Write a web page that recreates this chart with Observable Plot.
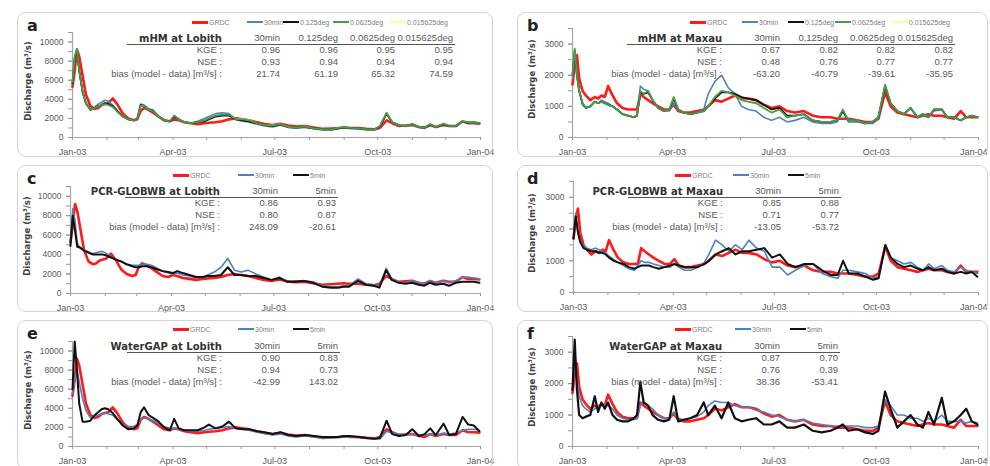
<!DOCTYPE html>
<html><head><meta charset="utf-8">
<script src="https://cdn.jsdelivr.net/npm/d3@7"></script>
<script src="https://cdn.jsdelivr.net/npm/@observablehq/plot@0.6"></script>
<style>
body{margin:0;background:#fff;font-family:"Liberation Sans",Arial,sans-serif;}
#root{position:relative;width:990px;height:466px;overflow:hidden;background:#fff;}
.panel{position:absolute;}
.panel svg{position:absolute;left:0;top:0;}
.frame{position:absolute;left:0;top:0;right:0;bottom:0;border:1px solid #d4d4d4;border-radius:9px;pointer-events:none;}
.t{position:absolute;white-space:nowrap;line-height:1;}
.letter{font:bold 16px "DejaVu Sans",sans-serif;color:#222;}
.ytitle{font:bold 8.5px "DejaVu Sans",sans-serif;color:#404040;}
.lg{font-size:7px;color:#808080;}
.tbl{font-size:9.5px;color:#595959;}
.thead{font:bold 10px "DejaVu Sans",sans-serif;color:#333;}
.uline{position:absolute;height:0;border-top:1.3px solid #555;}
.lgline{position:absolute;height:0;}
</style>
</head><body><div id="root"></div>
<script>
// ---- day offsets from 1 Jan 2003 shared by all series ----
const days = [0,2,4,6,9,12,16,20,23,26, 29,32,36,40,45,50,55,58,61,64,
  68,72,77,82,87,91,95,100,106,112, 118,122,128,134,140,146,152,158,165,172,
  179,186,193,200,208,216,224,232,238,243, 248,256,263,270,275,281,286,292,298,304,
  310,315,320,325,332,337,343,349,354,359,364];

// ---- Lobith (m3/s) ----
const lobGRDC = [5300,7000,9200,8500,6500,4500,3300,3000,3100,3400,
  3500,3600,4100,3500,2500,2000,1800,1900,2800,3100,
  2900,2600,2200,1800,1700,1900,1800,1600,1500,1400,
  1500,1550,1600,1700,1900,2000,1900,1800,1600,1400,
  1300,1450,1250,1150,1200,1050,900,950,1000,1050,
  1000,1000,900,850,1000,1800,1500,1200,1250,1300,
  1100,1000,1300,1100,1300,1200,1200,1700,1500,1500,1450];
const lobMhm30 = [5600,8300,9100,7000,4800,3600,2900,3200,3500,3700,
  3900,3800,3400,2800,2200,1900,1800,2000,3500,3400,
  3000,2900,2200,1800,1700,2200,1800,1600,1500,1700,
  2000,2200,2500,2600,2500,1900,1700,1600,1400,1200,
  1100,1300,1050,1000,1100,900,800,800,950,1050,
  950,900,800,800,1100,2500,1600,1250,1150,1350,
  1050,1000,1350,1050,1400,1150,1150,1650,1550,1550,1450];
const lobMhm0125 = [5700,8400,9200,7000,4800,3600,2900,3100,3300,3400,
  3600,3500,3300,2800,2200,1900,1800,2000,3400,3300,
  2900,2800,2200,1800,1700,2200,1900,1600,1500,1600,
  1700,1900,2200,2300,2300,1900,1800,1700,1500,1300,
  1200,1350,1100,1050,1100,950,850,850,950,1050,
  1000,950,850,850,1150,2500,1600,1300,1200,1400,
  1100,1050,1350,1100,1400,1200,1200,1700,1550,1600,1500];
const lobMhm00625 = [5800,8500,9300,7000,4800,3600,2900,3100,3300,3400,
  3500,3400,3200,2700,2200,1900,1800,2000,3300,3300,
  2900,2800,2200,1800,1700,2300,1900,1600,1500,1600,
  1800,2000,2300,2400,2400,1900,1900,1800,1500,1300,
  1250,1400,1100,1050,1150,950,850,850,1000,1100,
  1000,950,850,850,1200,2600,1600,1300,1200,1400,
  1100,1050,1400,1100,1450,1200,1200,1700,1600,1600,1500];
const lobMhm0015625 = [5800,8500,9300,7050,4850,3600,2900,3100,3300,3450,
  3550,3400,3200,2700,2200,1900,1800,2000,3300,3300,
  2900,2800,2250,1800,1700,2300,1900,1600,1500,1650,
  1800,2000,2300,2400,2400,1950,1900,1800,1500,1300,
  1250,1400,1100,1050,1150,950,850,850,1000,1100,
  1000,950,850,850,1200,2650,1650,1300,1200,1400,
  1100,1050,1400,1100,1450,1200,1200,1750,1600,1600,1500];
const lobPcr30 = [5300,8700,7500,5200,4600,4500,4300,4100,4200,4300,
  4300,4100,3800,3500,3300,3000,2900,2900,2900,3000,
  3000,2900,2600,2300,2100,2000,2100,1900,1800,1600,
  1700,1900,2200,2700,3600,2400,2200,2400,2000,1700,
  1400,1700,1200,1300,1300,1200,800,700,700,800,
  800,1500,1000,900,800,2600,1500,1200,1100,1300,
  1100,1000,1300,1100,1300,1100,1300,1700,1700,1600,1500];
const lobPcr5 = [4900,8000,6500,4800,4700,4400,4200,4000,4000,4000,
  4000,3900,3700,3500,3300,3000,2800,2700,2700,2800,
  2800,2700,2500,2300,2200,2100,2300,2100,1900,1700,
  1700,1800,1800,1900,2700,1900,1900,1800,1800,1600,
  1400,1600,1200,1200,1300,1100,700,600,600,700,
  700,1300,900,800,600,2400,1400,1100,1000,1100,
  900,800,1100,900,1000,800,1100,1200,1200,1200,1100];
const lobWg30 = [5500,7200,8000,6800,5000,3800,3000,3200,3300,3400,
  3500,3400,3300,2800,2300,2100,2100,2300,2800,3000,
  2900,2700,2400,2100,1900,1900,1800,1700,1600,1600,
  1700,1800,1900,2000,2100,1900,1800,1700,1500,1400,
  1200,1300,1100,1000,1100,1000,900,900,950,1000,
  1000,950,900,850,800,1600,1400,1300,1200,1300,
  1200,1200,1300,1200,1400,1300,1400,1700,1800,1800,1700];
const lobWg5 = [6000,11000,8000,4500,2600,2600,2700,3300,3600,3900,
  4000,3900,3500,2900,2200,1800,1900,2200,3600,4100,
  3300,3000,2600,2000,1700,2900,1900,1700,1700,1700,
  2000,2300,1900,2100,2600,1900,1800,1800,1600,1500,
  1300,1500,1200,1100,1200,1100,1000,1000,1000,1100,
  1100,1000,900,800,900,2700,1300,1100,1200,1800,
  1100,1300,1900,1200,2400,1200,1300,3100,2300,2200,1600];

// ---- Maxau (m3/s) ----
const maxGRDC = [1700,2300,2650,1900,1500,1350,1200,1300,1250,1350,
  1300,1650,1350,1100,950,900,900,900,1400,1300,
  1200,1100,1000,900,900,1050,850,800,800,850,
  900,1000,1200,1150,1250,1350,1250,1250,1200,1050,
  950,1000,850,800,850,700,650,650,600,600,
  600,550,500,500,600,1450,1000,800,750,700,
  650,700,750,700,700,650,600,850,650,650,650];
const maxMhm30 = [1900,2700,2000,1500,1050,950,1000,1150,1100,1200,
  1150,1100,1000,900,750,700,650,700,1650,1550,
  1500,1200,950,850,850,1100,900,800,750,800,
  900,1400,1800,2000,1600,1400,1000,900,850,650,
  550,650,500,550,650,500,450,450,500,850,
  500,500,450,450,600,1650,1100,850,750,950,
  650,700,650,850,900,650,650,550,650,700,650];
const maxMhm0125 = [2000,2800,2000,1500,1100,950,1000,1150,1100,1150,
  1100,1050,1000,900,750,700,650,700,1450,1400,
  1450,1200,950,850,900,1250,900,800,750,800,
  850,1000,1250,1450,1450,1400,1300,1250,1200,1050,
  900,950,700,700,750,550,500,500,550,850,
  550,550,450,500,650,1650,1100,850,750,950,
  650,750,650,900,900,650,650,550,650,700,650];
const maxMhm00625 = [2000,2850,2000,1500,1100,950,1000,1150,1100,1150,
  1100,1050,1000,900,750,700,650,700,1500,1400,
  1500,1200,950,850,900,1300,900,800,750,800,
  850,1000,1300,1500,1450,1350,1200,1150,1100,950,
  800,900,650,700,750,550,500,500,550,900,
  550,550,450,500,650,1700,1100,850,750,950,
  650,750,650,900,900,650,650,550,650,700,650];
const maxMhm0015625 = [2000,2850,2050,1500,1100,950,1000,1150,1100,1150,
  1100,1050,1000,900,750,700,650,700,1500,1400,
  1500,1200,950,850,900,1300,900,800,750,800,
  850,1000,1300,1500,1450,1350,1200,1150,1100,950,
  800,900,650,700,750,550,500,500,550,900,
  550,550,450,500,650,1700,1100,850,750,950,
  650,750,650,900,900,650,650,550,650,700,650];
const maxPcr30 = [1700,2500,1900,1600,1500,1400,1350,1400,1350,1300,
  1250,1150,1050,950,850,750,700,850,1000,950,
  950,900,850,800,800,900,800,700,700,800,
  950,1200,1650,1500,1300,1500,1350,1650,1400,1300,
  800,800,550,700,850,900,600,500,450,700,
  700,650,600,450,500,1500,1100,1000,900,950,
  800,700,900,750,850,700,650,800,700,650,600];
const maxPcr5 = [1700,2400,1900,1600,1400,1350,1300,1300,1250,1250,
  1200,1100,1000,950,900,800,750,800,850,850,
  850,800,750,800,850,900,850,800,800,800,
  900,1000,1200,1300,1400,1200,1300,1300,1350,1400,
  1100,1200,900,800,900,900,700,550,550,1000,
  600,600,500,400,450,1500,1100,900,800,850,
  750,700,800,700,750,650,600,650,600,650,500];
const maxWg30 = [1800,2700,2200,1600,1300,1200,1100,1200,1250,1300,
  1350,1300,1200,1000,900,850,850,900,1350,1400,
  1300,1200,1000,900,900,1100,900,850,900,950,
  1100,1300,1450,1400,1400,1300,1250,1250,1150,1100,
  1000,950,850,800,850,750,700,650,650,650,
  650,650,600,600,650,1500,1300,1000,1000,900,
  900,800,900,800,1000,800,800,800,750,800,750];
const maxWg5 = [1800,3400,1800,1000,900,950,1000,1600,1100,1400,
  1200,1400,1000,850,800,800,900,1000,2050,1400,
  1300,1000,850,800,850,1600,800,850,900,1000,
  1400,1000,1300,900,1400,900,800,850,900,700,
  700,800,600,600,700,500,450,500,600,700,
  500,550,450,400,500,1750,1200,600,800,1000,
  700,600,1100,700,1550,700,800,1000,1200,800,700];

// ---- performance statistics ----
const mhmLobKGE = ["0.96","0.96","0.95","0.95"], mhmLobNSE = ["0.93","0.94","0.94","0.94"], mhmLobBias = ["21.74","61.19","65.32","74.59"];
const mhmMaxKGE = ["0.67","0.82","0.82","0.82"], mhmMaxNSE = ["0.48","0.76","0.77","0.77"], mhmMaxBias = ["-63.20","-40.79","-39.61","-35.95"];
const pcrLobKGE = ["0.86","0.93"], pcrLobNSE = ["0.80","0.87"], pcrLobBias = ["248.09","-20.61"];
const pcrMaxKGE = ["0.85","0.88"], pcrMaxNSE = ["0.71","0.77"], pcrMaxBias = ["-13.05","-53.72"];
const wgLobKGE = ["0.90","0.83"], wgLobNSE = ["0.94","0.73"], wgLobBias = ["-42.99","143.02"];
const wgMaxKGE = ["0.87","0.70"], wgMaxNSE = ["0.76","0.39"], wgMaxBias = ["38.36","-53.41"];
const mhmCols = ["30min","0.125deg","0.0625deg","0.015625deg"];
const coarseCols = ["30min","5min"];
const rowLabels = ["KGE :","NSE :","bias (model - data) [m³/s] :"];

// ---- axis ticks ----
const xTickDates = ["2003-01-01","2003-04-01","2003-07-01","2003-10-01","2004-01-01"].map(s => new Date(s));
const xTickLabels = ["Jan-03","Apr-03","Jul-03","Oct-03","Jan-04"];
const lobYLabels = [0,2000,4000,6000,8000,10000];
const lobYMinor = [0,1000,2000,3000,4000,5000,6000,7000,8000,9000,10000,11000];
const maxYLabels = [0,1000,2000,3000];
const maxYMinor = [0,500,1000,1500,2000,2500,3000,3500];
const yTitle = "Discharge (m³/s)";

// ---- styles ----
const RED = "#ff1a1a", BLUE = "#4f81bd", BLACK = "#111111", GREEN = "#43a047", YELLOW = "#ffff8c";
const dateOf = d => new Date(Date.UTC(2003, 0, 1 + d));
const xDomain = [new Date("2003-01-01"), new Date("2004-01-01")];
const monthTicks = d3.utcMonth.range(new Date("2003-01-01"), new Date("2004-01-02"));
const xLabelFor = d => xTickLabels[xTickDates.findIndex(t => +t === +d)];

const mk = (label, values, color, w) => ({label, values, color, w});
const panels = [
  {letter:"a", left:17, top:12, w:476, h:145, ml:55, mt:20, mb:20, mr:13, ymax:11000, yl:lobYLabels, ym:lobYMinor, tOff:-44, right:false,
   title:"mHM at Lobith", cols:mhmCols, stats:[mhmLobKGE,mhmLobNSE,mhmLobBias],
   series:[mk("GRDC",lobGRDC,RED,2.6), mk("30min",lobMhm30,BLUE,1.6), mk("0.125deg",lobMhm0125,BLACK,1.8), mk("0.0625deg",lobMhm00625,GREEN,1.8), mk("0.015625deg",lobMhm0015625,YELLOW,1.5)],
   order:[0,4,1,2,3], lgx:[192,247,283,333,390], lgy:22},
  {letter:"b", left:517, top:12, w:471, h:145, ml:55, mt:16, mb:20, mr:10, ymax:3500, yl:maxYLabels, ym:maxYMinor, tOff:-40, right:true,
   title:"mHM at Maxau", cols:mhmCols, stats:[mhmMaxKGE,mhmMaxNSE,mhmMaxBias],
   series:[mk("GRDC",maxGRDC,RED,2.6), mk("30min",maxMhm30,BLUE,1.6), mk("0.125deg",maxMhm0125,BLACK,1.8), mk("0.0625deg",maxMhm00625,GREEN,1.8), mk("0.015625deg",maxMhm0015625,YELLOW,1.5)],
   order:[0,4,1,2,3], lgx:[690,742,788,835,892], lgy:22},
  {letter:"c", left:17, top:165, w:476, h:147, ml:53, mt:21, mb:19, mr:13, ymax:11000, yl:lobYLabels, ym:lobYMinor, tOff:-43, right:false,
   title:"PCR-GLOBWB at Lobith", cols:coarseCols, stats:[pcrLobKGE,pcrLobNSE,pcrLobBias],
   series:[mk("GRDC",lobGRDC,RED,2.6), mk("30min",lobPcr30,BLUE,1.6), mk("5min",lobPcr5,BLACK,2)],
   order:[0,1,2], lgx:[173,238,293], lgy:175},
  {letter:"d", left:517, top:165, w:471, h:147, ml:56, mt:16, mb:20, mr:10, ymax:3500, yl:maxYLabels, ym:maxYMinor, tOff:-41, right:true,
   title:"PCR-GLOBWB at Maxau", cols:coarseCols, stats:[pcrMaxKGE,pcrMaxNSE,pcrMaxBias],
   series:[mk("GRDC",maxGRDC,RED,2.6), mk("30min",maxPcr30,BLUE,1.6), mk("5min",maxPcr5,BLACK,2)],
   order:[0,1,2], lgx:[675,733,788], lgy:175},
  {letter:"e", left:17, top:320, w:476, h:150, ml:55, mt:21, mb:24, mr:13, ymax:11000, yl:lobYLabels, ym:lobYMinor, tOff:-44, right:false,
   title:"WaterGAP at Lobith", cols:coarseCols, stats:[wgLobKGE,wgLobNSE,wgLobBias],
   series:[mk("GRDC",lobGRDC,RED,2.6), mk("30min",lobWg30,BLUE,1.6), mk("5min",lobWg5,BLACK,2)],
   order:[0,1,2], lgx:[173,238,293], lgy:329},
  {letter:"f", left:517, top:320, w:471, h:150, ml:55, mt:16, mb:24, mr:10, ymax:3500, yl:maxYLabels, ym:maxYMinor, tOff:-40, right:true,
   title:"WaterGAP at Maxau", cols:coarseCols, stats:[wgMaxKGE,wgMaxNSE,wgMaxBias],
   series:[mk("GRDC",maxGRDC,RED,2.6), mk("30min",maxWg30,BLUE,1.6), mk("5min",maxWg5,BLACK,2.2)],
   order:[0,1,2], lgx:[675,735,790], lgy:329}
];

const root = document.getElementById("root");
function txt(parent, s, x, y, cls, align) {
  const e = document.createElement("div");
  e.className = "t " + cls; e.textContent = s;
  e.style.left = x + "px"; e.style.top = y + "px";
  e.style.transform = align === "right" ? "translate(-100%,-50%)" : align === "center" ? "translate(-50%,-50%)" : "translate(0,-50%)";
  parent.appendChild(e);
  return e;
}

for (const p of panels) {
  const div = document.createElement("div");
  div.className = "panel";
  Object.assign(div.style, {left: p.left + "px", top: p.top + "px", width: p.w + "px", height: p.h + "px"});
  root.appendChild(div);

  const lines = p.order.map(k => {
    const s = p.series[k];
    const data = days.map((d, i) => ({date: dateOf(d), q: s.values[i]}));
    return Plot.lineY(data, {x: "date", y: "q", stroke: s.color, strokeWidth: s.w, strokeLinejoin: "round"});
  });

  // x labels: on right-hand panels the final label is end-anchored so it stays inside the page
  const mainTicks = p.right ? xTickDates.slice(0, -1) : xTickDates;
  const xLabelMarks = [
    Plot.axisX({ticks: mainTicks, tickSize: 0, tickPadding: 11, fontSize: 9, fill: "#595959", tickFormat: xLabelFor, label: null})
  ];
  if (p.right) xLabelMarks.push(
    Plot.axisX({ticks: xTickDates.slice(-1), tickSize: 0, tickPadding: 11, fontSize: 9, fill: "#595959", tickFormat: xLabelFor, label: null, textAnchor: "end", dx: 9})
  );

  const chart = Plot.plot({
    width: p.w, height: p.h,
    marginLeft: p.ml, marginTop: p.mt, marginBottom: p.mb, marginRight: p.mr,
    style: {fontFamily: "Liberation Sans, Arial, sans-serif", fontSize: "8.5px", color: "#595959", background: "transparent", overflow: "visible"},
    x: {type: "utc", domain: xDomain},
    y: {domain: [0, p.ymax]},
    marks: [
      Plot.axisY({ticks: p.ym, tickSize: 4, tickFormat: () => "", label: null, stroke: "#999"}),
      Plot.axisY({ticks: p.yl, tickSize: 4, tickPadding: 5, tickFormat: d => String(d), label: null, stroke: "#999", fill: "#595959"}),
      Plot.axisX({ticks: monthTicks, tickSize: 3, tickFormat: () => "", label: null, stroke: "#999"}),
      ...xLabelMarks,
      Plot.ruleX([xDomain[0]], {stroke: "#a6a6a6", strokeWidth: 1.2}),
      Plot.ruleY([0], {stroke: "#a6a6a6", strokeWidth: 1.2}),
      ...lines
    ]
  });
  div.appendChild(chart);

  const frame = document.createElement("div"); frame.className = "frame"; div.appendChild(frame);

  // panel letter
  txt(div, p.letter, 10, 13, "letter", "left");
  // y-axis title
  const fy = p.mt + (p.h - p.mt - p.mb) / 2 - 4;
  const yt = txt(div, yTitle, p.ml + p.tOff, fy, "ytitle", "center");
  yt.style.transform = "translate(-50%,-50%) rotate(-90deg)";

  // legend
  p.series.forEach((s, i) => {
    const x0 = p.lgx[i] - p.left, y0 = p.lgy - p.top;
    const ln = document.createElement("div");
    ln.className = "lgline";
    Object.assign(ln.style, {left: x0 + "px", top: (y0 - s.w / 2) + "px", width: "16px", borderTop: (s.w + 0.6) + "px solid " + s.color});
    div.appendChild(ln);
    txt(div, s.label, x0 + 17, y0, "lg", "left");
  });

  // statistics table
  const ax = p.ml;
  const colX = [208, 266, 323, 381].slice(0, p.cols.length).map(c => ax + c);
  txt(div, p.title, ax + 150, 26, "thead", "right");
  p.cols.forEach((c, i) => txt(div, c, colX[i], 26, "tbl", "right"));
  const ul = document.createElement("div"); ul.className = "uline";
  Object.assign(ul.style, {left: (ax + 55) + "px", top: "32px", width: (colX[colX.length - 1] + 2 - ax - 55) + "px"});
  div.appendChild(ul);
  rowLabels.forEach((r, j) => {
    const y = 38 + j * 12;
    txt(div, r, ax + 150, y, "tbl", "right");
    p.stats[j].forEach((v, i) => txt(div, v, colX[i], y, "tbl", "right"));
  });
}
</script>
</body></html>
